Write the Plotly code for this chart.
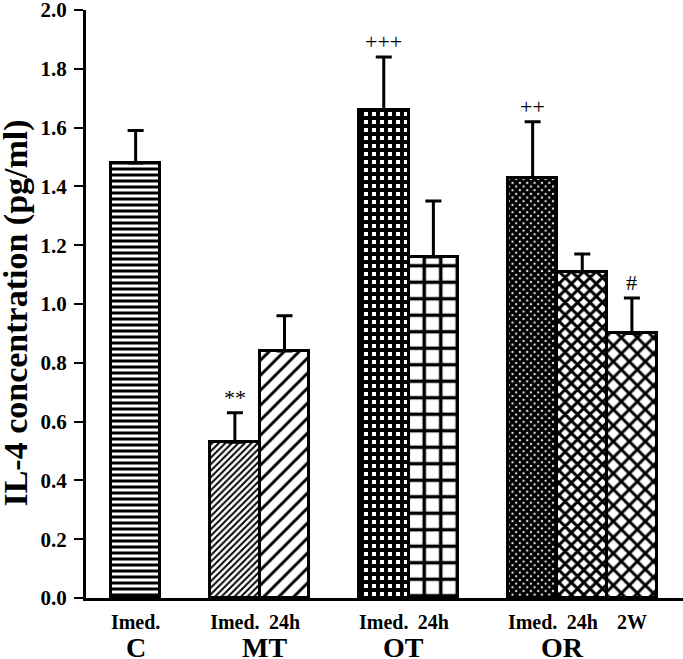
import plotly.graph_objects as go

# ---- data ----
groups = ["C", "MT", "OT", "OR"]
bar_group = ["C", "MT", "MT", "OT", "OT", "OR", "OR", "OR"]
time_labels = ["Imed.", "Imed.", "24h", "Imed.", "24h", "Imed.", "24h", "2W"]
means = [1.48, 0.53, 0.84, 1.66, 1.16, 1.43, 1.11, 0.90]
sems = [0.11, 0.10, 0.12, 0.18, 0.19, 0.19, 0.06, 0.12]
marks = ["", "**", "", "+++", "", "++", "", "#"]
y_ticks = [0.0, 0.2, 0.4, 0.6, 0.8, 1.0, 1.2, 1.4, 1.6, 1.8, 2.0]

# ---- layout / style ----
x_pos = [0, 2, 3, 5, 6, 8, 9, 10]
group_label_x = [0.0, 2.6, 5.4, 8.6]
pat_shape = ["-", "/", "/", "+", "+", "x", "x", "x"]
pat_size = [6, 4.6, 10.6, 8, 16.5, 5.2, 8.8, 11.3]
pat_solid = [0.5, 0.42, 0.28, 0.75, 0.38, 0.86, 0.56, 0.46]

FONT = "Liberation Serif"

fig = go.Figure()
fig.add_trace(go.Bar(
    x=x_pos, y=means, width=1.0,
    marker=dict(
        color="white",
        line=dict(color="black", width=3),
        pattern=dict(shape=pat_shape, size=pat_size, solidity=pat_solid,
                     fgcolor="black", bgcolor="white", fillmode="replace"),
    ),
    error_y=dict(type="data", symmetric=False, array=sems,
                 arrayminus=[0] * len(sems), color="black", thickness=3, width=8),
    showlegend=False, hoverinfo="skip",
))

annotations = []
for xp, m, s, t in zip(x_pos, means, sems, marks):
    if t:
        annotations.append(dict(x=xp, y=m + s, xref="x", yref="y", text=t,
                                showarrow=False, yanchor="bottom", yshift=1,
                                font=dict(family=FONT, size=22, color="#000000")))
for gx, g in zip(group_label_x, groups):
    annotations.append(dict(x=gx, y=0, xref="x", yref="paper", text="<b>%s</b>" % g,
                            showarrow=False, yanchor="top", yshift=-32,
                            font=dict(family=FONT, size=28, color="black")))
annotations.append(dict(x=-0.117, y=0.484, xref="paper", yref="paper",
                        text="<b>IL-4 concentration (pg/ml)</b>", textangle=-90,
                        showarrow=False, xanchor="center", yanchor="middle",
                        font=dict(family=FONT, size=34, color="black")))

fig.update_layout(
    width=683, height=659,
    margin=dict(l=86, r=0, t=10, b=61),
    paper_bgcolor="white", plot_bgcolor="white",
    font=dict(family=FONT, color="black"),
    bargap=0,
    annotations=annotations,
    xaxis=dict(range=[-1.0, 11.03], tickvals=x_pos,
               ticktext=["<b>%s</b>" % t for t in time_labels],
               tickfont=dict(family=FONT, size=20, color="black"),
               showline=True, linecolor="black", linewidth=3, automargin=False,
               ticks="", showgrid=False, zeroline=False, ticklabelstandoff=4,
               ticklabeloverflow="allow", fixedrange=True),
    yaxis=dict(range=[0, 2.0], tickvals=y_ticks,
               ticktext=["<b>%.1f</b>" % v for v in y_ticks],
               tickfont=dict(family=FONT, size=21, color="black"),
               showline=True, linecolor="black", linewidth=3, automargin=False,
               ticks="outside", ticklen=9, tickwidth=2, tickcolor="black",
               showgrid=False, zeroline=False, ticklabelstandoff=3,
               ticklabeloverflow="allow", fixedrange=True),
)

fig.write_html("out.html", config={"displayModeBar": False},
               post_script="document.body.style.margin='0px';")
